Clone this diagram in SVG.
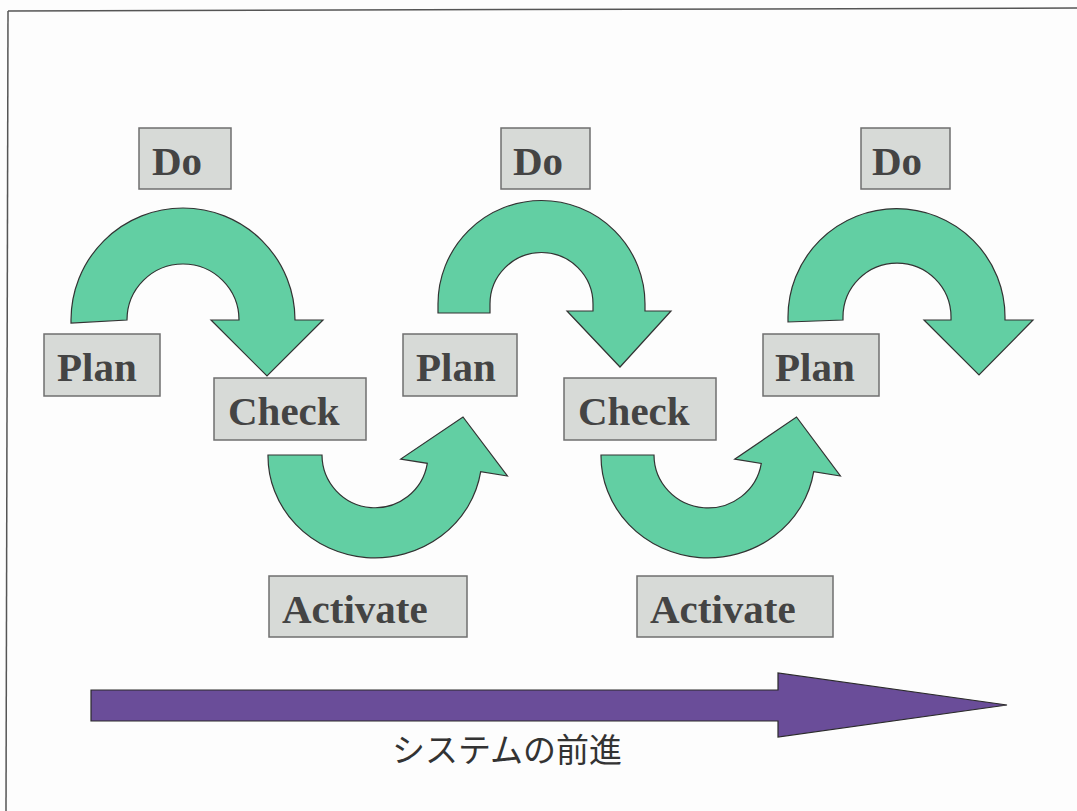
<svg xmlns="http://www.w3.org/2000/svg" width="1077" height="811" viewBox="0 0 1077 811">
<style>
.bg{fill:#fdfdfd}
.frame{stroke:#555;stroke-width:1.5;fill:none}
.box{fill:#d7dad7;stroke:#6f6f6f;stroke-width:1.5}
.lbl{font-family:"Liberation Serif","Times New Roman",serif;font-weight:bold;font-size:41px;fill:#444}
.cyc{fill:#62cfa3;stroke:#333;stroke-width:1.2;stroke-linejoin:miter}
.prog{fill:#6a4d99;stroke:#2a2a2a;stroke-width:1.2}
.cap{font-family:"Noto Sans CJK JP","Noto Sans",sans-serif;font-size:33px;fill:#333;text-anchor:middle}
</style>
<rect class="bg" x="0" y="0" width="1077" height="811"/>
<g id="frame">
<line class="frame" x1="8" y1="11" x2="1077" y2="8"/>
<line class="frame" x1="8" y1="11" x2="6" y2="811"/>
</g>
<g id="connectors">
<path id="arc1" class="cyc" d="M71 323 L71 320 A112 112 0 0 1 295 320 L323 320 L267 376 L211 320 L239 320 A56 56 0 0 0 127 320 Z"/>
<path id="arc2" class="cyc" d="M438 313 L438 304 A103.5 103.5 0 0 1 645 304 L645 311 L671 311 L620 367 L567 311 L593 311 L593 304 A51.5 51.5 0 0 0 490 304 L490 313 Z"/>
<path id="arc3" class="cyc" d="M788 322 L788 317 A108.5 108.5 0 0 1 1005 317 L1005 320 L1033 320 L979 375 L924 320 L951 320 L951 317 A54 54 0 0 0 843 317 L843 320 Z"/>
<path id="arc4" class="cyc" d="M268 455 A107 102 0 0 0 480.7 471.7 L507.4 476 L463 417 L400.7 459.1 L427.3 463.3 A53 53 0 0 1 322 455 Z"/>
<path id="arc5" class="cyc" d="M601 455 A107 102 0 0 0 813.7 471.7 L840.4 476 L796.5 417 L734.7 459.2 L761.3 463.4 A54 53 0 0 1 654 455 Z"/>
<path id="progress" class="prog" d="M91 690 L778 690 L778 673 L1007 705 L778 737 L778 721 L91 721 Z"/>
</g>
<g id="do1"><rect class="box" x="139" y="128" width="92" height="61"/><text class="lbl" x="152" y="175">Do</text></g>
<g id="plan1"><rect class="box" x="44" y="334" width="116" height="62"/><text class="lbl" x="57" y="381">Plan</text></g>
<g id="check1"><rect class="box" x="214" y="378" width="152" height="62"/><text class="lbl" x="228" y="425">Check</text></g>
<g id="activate1"><rect class="box" x="269" y="576" width="198" height="61"/><text class="lbl" x="282" y="623">Activate</text></g>
<g id="do2"><rect class="box" x="501" y="128" width="89" height="61"/><text class="lbl" x="513" y="175">Do</text></g>
<g id="plan2"><rect class="box" x="403" y="334" width="114" height="62"/><text class="lbl" x="416" y="381">Plan</text></g>
<g id="check2"><rect class="box" x="564" y="378" width="152" height="62"/><text class="lbl" x="578" y="425">Check</text></g>
<g id="activate2"><rect class="box" x="637" y="576" width="196" height="61"/><text class="lbl" x="650" y="623">Activate</text></g>
<g id="do3"><rect class="box" x="861" y="128" width="89" height="61"/><text class="lbl" x="872" y="175">Do</text></g>
<g id="plan3"><rect class="box" x="763" y="334" width="116" height="62"/><text class="lbl" x="775" y="381">Plan</text></g>
<g id="caption"><text class="cap" x="507" y="762">システムの前進</text></g>
</svg>
